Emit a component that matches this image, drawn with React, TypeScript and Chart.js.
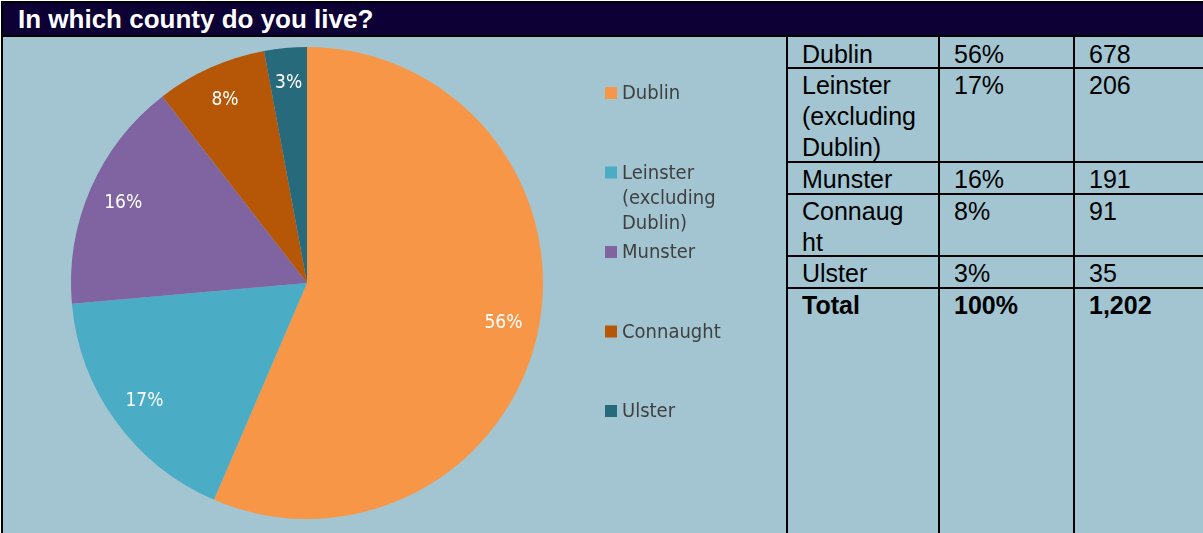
import React, { useEffect, useRef } from "react";
import { Chart, registerables } from "chart.js";

Chart.register(...registerables);

const title = "In which county do you live?";
const categories = ["Dublin", "Leinster (excluding Dublin)", "Munster", "Connaught", "Ulster"];
const legendLines = [["Dublin"], ["Leinster", "(excluding", "Dublin)"], ["Munster"], ["Connaught"], ["Ulster"]];
const tableNameLines = [["Dublin"], ["Leinster", "(excluding", "Dublin)"], ["Munster"], ["Connaug", "ht"], ["Ulster"]];
const counts = [678, 206, 191, 91, 35];
const countLabels = ["678", "206", "191", "91", "35"];
const percentLabels = ["56%", "17%", "16%", "8%", "3%"];
const totalLabel = "Total";
const totalPercent = "100%";
const totalCount = "1,202";
const colors = ["#f79646", "#4bacc6", "#8064a2", "#b65708", "#276a7c"];

const BG = "#a2c5d1";
const NAVY = "#0c0035";
const LABEL_FONT = '"DejaVu Sans Condensed", "DejaVu Sans", sans-serif';

const pieLabels = {
  id: "pieLabels",
  afterDatasetsDraw(chart: any) {
    const ctx = chart.ctx;
    const meta = chart.getDatasetMeta(0);
    ctx.save();
    ctx.fillStyle = "#ffffff";
    ctx.font = `19px ${LABEL_FONT}`;
    ctx.textAlign = "center";
    ctx.textBaseline = "middle";
    meta.data.forEach((arc: any, i: number) => {
      const p = arc.getProps(["x", "y", "startAngle", "endAngle", "outerRadius"], true);
      const mid = (p.startAngle + p.endAngle) / 2;
      const r = p.outerRadius * 0.85;
      ctx.fillText(percentLabels[i], p.x + Math.cos(mid) * r, p.y + Math.sin(mid) * r);
    });
    ctx.restore();
  },
};

const sideLegend = {
  id: "sideLegend",
  afterDraw(chart: any) {
    const ctx = chart.ctx;
    ctx.save();
    ctx.font = `20px ${LABEL_FONT}`;
    ctx.textBaseline = "middle";
    ctx.textAlign = "left";
    const x0 = 602;
    const y0 = 57;
    const step = 79.5;
    legendLines.forEach((lines, i) => {
      const cy = y0 + i * step;
      ctx.fillStyle = colors[i];
      ctx.fillRect(x0, cy - 6, 12, 12);
      ctx.fillStyle = "#404040";
      lines.forEach((t, j) => ctx.fillText(t, x0 + 17, cy + 1 + j * 25));
    });
    ctx.restore();
  },
};

function PieChart() {
  const ref = useRef<HTMLCanvasElement | null>(null);
  useEffect(() => {
    if (!ref.current) return;
    const chart = new Chart(ref.current, {
      type: "pie",
      data: {
        labels: categories,
        datasets: [{ data: counts, backgroundColor: colors, borderWidth: 0 }],
      },
      options: {
        animation: false,
        responsive: false,
        layout: { padding: { left: 68, top: 11, right: 243, bottom: 14 } },
        plugins: { legend: { display: false }, tooltip: { enabled: false } },
      },
      plugins: [pieLabels, sideLegend],
    });
    return () => chart.destroy();
  }, []);
  return (
    <canvas
      ref={ref}
      width={783}
      height={497}
      style={{ position: "absolute", left: 3, top: 36, width: 783, height: 497 }}
    />
  );
}

const colX = [786, 938, 1073];
const rowY = [36, 67, 161, 193, 255, 287];
const TABLE_FONT = '"Liberation Sans", Arial, sans-serif';

export default function App() {
  const rows = tableNameLines.map((lines, i) => [lines, [percentLabels[i]], [countLabels[i]]]);
  rows.push([[totalLabel], [totalPercent], [totalCount]]);
  return (
    <div
      style={{
        position: "fixed",
        left: 0,
        top: 0,
        width: 1203,
        height: 533,
        background: "#ffffff",
        overflow: "hidden",
      }}
    >
      <div style={{ position: "absolute", left: 1, top: 1, width: 1202, height: 532, background: "#000" }} />
      <div style={{ position: "absolute", left: 3, top: 3, width: 1200, height: 32, background: NAVY }} />
      <div
        style={{
          position: "absolute",
          left: 18,
          top: 3,
          height: 32,
          lineHeight: "32px",
          color: "#fff",
          fontFamily: TABLE_FONT,
          fontWeight: "bold",
          fontSize: 26,
          whiteSpace: "nowrap",
        }}
      >
        {title}
      </div>
      <div style={{ position: "absolute", left: 3, top: 37, width: 1200, height: 496, background: BG }} />
      <PieChart />
      {colX.map((x, i) => (
        <div key={"v" + i} style={{ position: "absolute", left: x, top: 36, width: 2, height: 497, background: "#000" }} />
      ))}
      {rowY.slice(1).map((y, i) => (
        <div key={"h" + i} style={{ position: "absolute", left: 786, top: y, width: 417, height: 2, background: "#000" }} />
      ))}
      {rows.map((cells, r) =>
        cells.map((lines, c) => (
          <div
            key={r + "-" + c}
            style={{
              position: "absolute",
              left: colX[c] + 16,
              top: rowY[r] + 3,
              fontFamily: TABLE_FONT,
              fontSize: 25,
              lineHeight: "31px",
              fontWeight: r === rows.length - 1 ? "bold" : "normal",
              color: "#000",
              whiteSpace: "nowrap",
            }}
          >
            {lines.map((t, k) => (
              <div key={k}>{t}</div>
            ))}
          </div>
        ))
      )}
    </div>
  );
}
